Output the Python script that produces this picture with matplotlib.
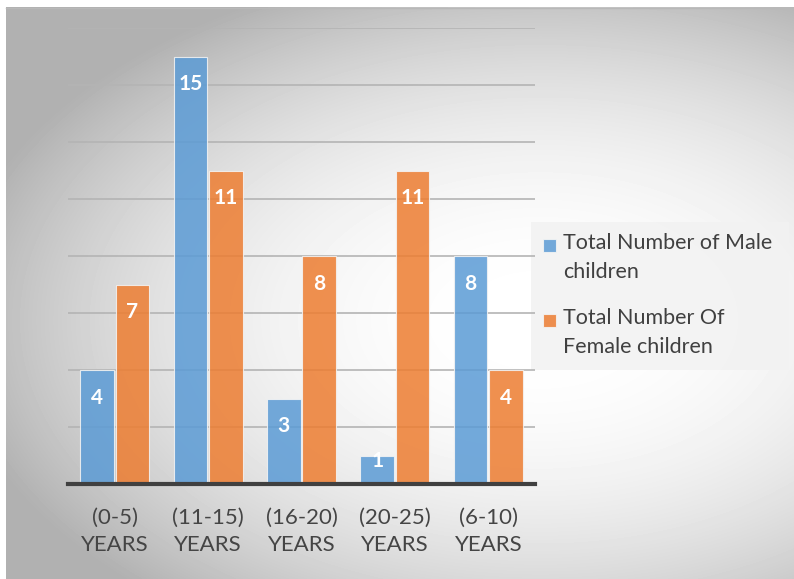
import matplotlib
matplotlib.use("Agg")
import matplotlib.pyplot as plt
import numpy as np
from matplotlib.patches import Rectangle

categories = ["(0-5)\nYEARS", "(11-15)\nYEARS", "(16-20)\nYEARS", "(20-25)\nYEARS", "(6-10)\nYEARS"]
male = [4, 15, 3, 1, 8]
female = [7, 11, 8, 11, 4]
series_names = ["Total Number of Male\nchildren", "Total Number Of\nFemale children"]
series_colors = ["#5B9BD5", "#ED7D31"]

W, H = 794, 579
plt.rcParams["font.family"] = ["Lato", "DejaVu Sans"]
fig = plt.figure(figsize=(W / 100, H / 100), dpi=100)
fig.patch.set_facecolor("white")

# background panel with radial gradient (pixel coords)
bg = fig.add_axes([0, 0, 1, 1])
bg.set_xlim(0, W)
bg.set_ylim(H, 0)
bg.axis("off")
xx, yy = np.meshgrid(np.arange(6, W), np.arange(7, H))
d = np.sqrt(((xx - 540) / 540.0) ** 2 + ((yy - 320) / 330.0) ** 2)
shade = 1 - 0.25 * np.clip(d, 0, 1.1) ** 2.2
bg.imshow(shade, cmap="gray", vmin=0, vmax=1, extent=(6, W, H, 7),
          aspect="auto", interpolation="bilinear")
bg.plot([6, W], [7.5, 7.5], color="#b8b8b8", lw=1)

# main plot
ax = fig.add_axes([68 / W, 1 - 484 / H, (535 - 68) / W, (484 - 28) / H])
ax.set_facecolor("none")
ax.set_xlim(-0.5, 4.5)
ax.set_ylim(0, 16)
for y in range(2, 17, 2):
    ax.axhline(y, color="#b4b4b4", lw=1.2, zorder=1)

x = np.arange(len(categories))
w = 0.36
off = 0.19
for vals, dx, col in [(male, -off, series_colors[0]), (female, off, series_colors[1])]:
    bars = ax.bar(x + dx, vals, w, color=col, alpha=0.85, edgecolor="#f4f4f4",
                  lw=0.8, zorder=2)
    for b, v in zip(bars, vals):
        dy = -20 if v > 1.5 else -4
        ax.annotate(str(v), (b.get_x() + b.get_width() / 2, v), xytext=(0, dy),
                    textcoords="offset points", ha="center", va="center",
                    color="white", fontsize=15, fontweight="bold", zorder=3)

ax.axhline(0, color="#404040", lw=3, zorder=4, clip_on=False)
for s in ax.spines.values():
    s.set_visible(False)
ax.set_yticks([])
ax.set_xticks(x)
ax.set_xticklabels(categories, fontsize=16, color="#454545", linespacing=1.45)
ax.tick_params(axis="x", length=0, pad=17)

# legend drawn in pixel coords
bg.add_patch(Rectangle((531, 222), 258, 148, facecolor="#f2f2f2", alpha=0.85,
                       edgecolor="none", zorder=5))
for i, (name, col) in enumerate(zip(series_names, series_colors)):
    ytop = 245 + i * 75
    bg.add_patch(Rectangle((543, ytop - 6.5), 13, 13, facecolor=col, alpha=0.85,
                           edgecolor="#f4f4f4", lw=0.8, zorder=6))
    bg.text(563, ytop - 12, name, fontsize=15.5, color="#404040", va="top",
            ha="left", linespacing=1.55, zorder=6)

fig.savefig("out.png", dpi=100)
